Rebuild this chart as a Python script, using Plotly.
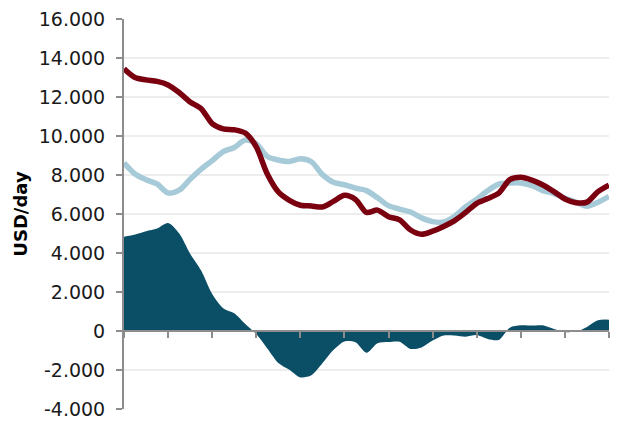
import plotly.graph_objects as go

# x positions in tick-interval units (11 intervals on the axis, 0.25 step)
x_pos = [i * 0.25 for i in range(45)]

red_series = [13450, 13000, 12880, 12800, 12620, 12230, 11745, 11400, 10640, 10370,
              10320, 10150, 9440, 8050, 7130, 6700, 6450, 6410, 6360, 6650,
              6960, 6750, 6080, 6200, 5860, 5700, 5180, 4960, 5120, 5360,
              5660, 6080, 6550, 6790, 7070, 7760, 7880, 7740, 7490, 7150,
              6770, 6580, 6610, 7150, 7480]

blue_series = [8620, 8050, 7760, 7540, 7080, 7220, 7780, 8300, 8740, 9200,
               9410, 9790, 9600, 8950, 8770, 8690, 8830, 8680, 8020, 7630,
               7500, 7330, 7200, 6830, 6430, 6250, 6100, 5800, 5610, 5590,
               5890, 6370, 6760, 7200, 7530, 7590, 7590, 7460, 7200, 7050,
               6820, 6610, 6400, 6600, 6900]

spread = [r - b for r, b in zip(red_series, blue_series)]

y_tickvals = [-4000, -2000, 0, 2000, 4000, 6000, 8000, 10000, 12000, 14000, 16000]
y_ticktext = ["-4.000", "-2.000", "0", "2.000", "4.000", "6.000", "8.000",
              "10.000", "12.000", "14.000", "16.000"]
x_tickvals = list(range(12))

RED = "#7a0010"
BLUE = "#a7cad8"
AREA = "#0b4f67"
AXIS = "#8c8c8c"
GRID = "#ededed"

fig = go.Figure()
fig.add_trace(go.Scatter(x=x_pos, y=spread, mode="lines", fill="tozeroy",
                         line=dict(width=0, color=AREA, shape="spline", smoothing=0.8),
                         fillcolor=AREA, hoverinfo="skip"))
fig.add_trace(go.Scatter(x=x_pos, y=blue_series, mode="lines",
                         line=dict(width=5.5, color=BLUE, shape="spline", smoothing=0.8)))
fig.add_trace(go.Scatter(x=x_pos, y=red_series, mode="lines",
                         line=dict(width=5.5, color=RED, shape="spline", smoothing=0.8)))

fig.update_layout(
    template="none",
    width=629, height=422,
    margin=dict(l=116, r=28, t=11, b=21),
    paper_bgcolor="white", plot_bgcolor="white",
    showlegend=False,
    font=dict(family="DejaVu Sans, Verdana, sans-serif", size=19, color="#1a1a1a"),
    xaxis=dict(range=[0, 11], tickvals=x_tickvals, showticklabels=False,
               ticks="outside", ticklen=6, tickwidth=2, tickcolor=AXIS,
               showline=True, linecolor=AXIS, linewidth=2,
               showgrid=False, zeroline=False, automargin=False,
               anchor="free", position=0.2),
    yaxis=dict(range=[-4000, 16000], tickvals=y_tickvals, ticktext=y_ticktext,
               ticks="outside", ticklen=6, tickwidth=2, tickcolor=AXIS,
               showline=True, linecolor=AXIS, linewidth=2,
               showgrid=True, gridcolor=GRID, gridwidth=2, zeroline=False,
               automargin=False, ticklabelstandoff=7, ticklabeloverflow="allow",
               title=dict(text="<b>USD/day</b>", standoff=6,
                          font=dict(size=18, color="#000000"))),
)

fig.write_html("out.html")
